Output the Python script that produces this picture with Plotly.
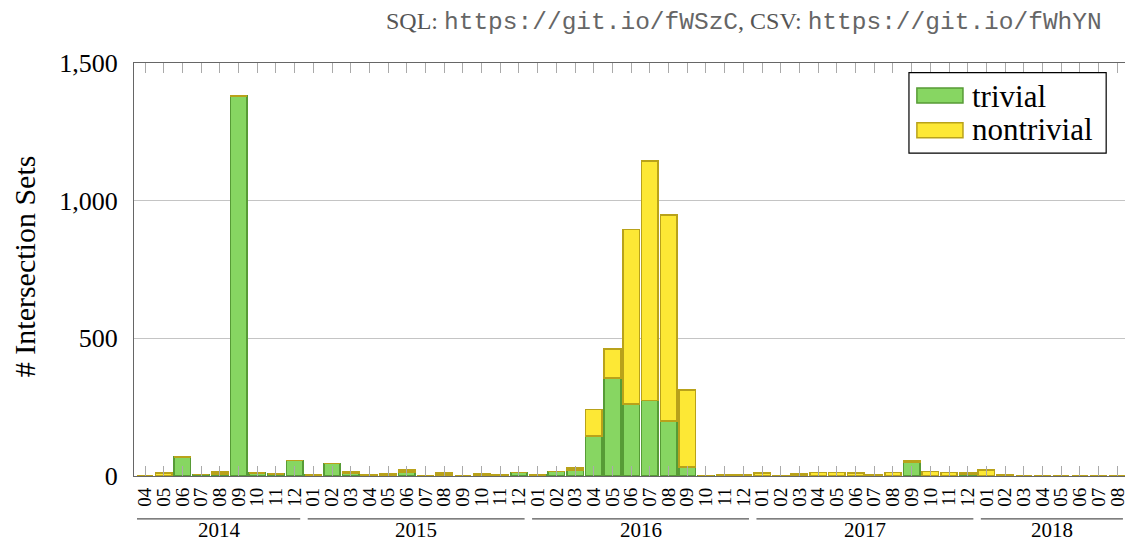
import plotly.graph_objects as go

years = ["2014", "2015", "2016", "2017", "2018"]
year_months = {
    "2014": ["04", "05", "06", "07", "08", "09", "10", "11", "12"],
    "2015": ["01", "02", "03", "04", "05", "06", "07", "08", "09", "10", "11", "12"],
    "2016": ["01", "02", "03", "04", "05", "06", "07", "08", "09", "10", "11", "12"],
    "2017": ["01", "02", "03", "04", "05", "06", "07", "08", "09", "10", "11", "12"],
    "2018": ["01", "02", "03", "04", "05", "06", "07", "08"],
}
categories = [f"{y}-{m}" for y in years for m in year_months[y]]
month_labels = [m for y in years for m in year_months[y]]

trivial = [
    0, 0, 68, 6, 8, 1380, 10, 8, 57,
    3, 45, 12, 0, 2, 15, 0, 3, 0, 2, 0, 13,
    3, 16, 21, 146, 356, 262, 274, 200, 33, 2, 0, 0,
    2, 0, 0, 0, 0, 0, 0, 0, 50, 0, 0, 5,
    1, 0, 0, 0, 0, 0, 0, 0,
]
nontrivial = [
    0, 12, 0, 0, 6, 0, 0, 0, 0,
    0, 0, 5, 3, 5, 6, 0, 8, 0, 6, 5, 0,
    0, 0, 7, 96, 105, 634, 870, 747, 279, 0, 3, 3,
    10, 2, 7, 13, 13, 12, 5, 13, 4, 16, 13, 5,
    20, 6, 0, 0, 0, 0, 0, 0,
]
y_ticks = [0, 500, 1000, 1500]

GREEN_FILL, GREEN_LINE = "#87d662", "#579b36"
YELLOW_FILL, YELLOW_LINE = "#fde835", "#b9a21a"
SERIF = "Liberation Serif"
MONO = "Liberation Mono"

fig = go.Figure()
fig.add_trace(go.Bar(x=categories, y=trivial, name="trivial",
                     marker=dict(color=GREEN_FILL, line=dict(color=GREEN_LINE, width=1.6))))
fig.add_trace(go.Bar(x=categories, y=nontrivial, name="nontrivial",
                     marker=dict(color=YELLOW_FILL, line=dict(color=YELLOW_LINE, width=1.6))))

n = len(categories)
fig.update_layout(
    width=1125, height=543,
    margin=dict(l=134, r=0, t=63, b=67, autoexpand=False),
    barmode="stack", bargap=0.12,
    plot_bgcolor="white", paper_bgcolor="white",
    showlegend=False,
    font=dict(family=SERIF, color="black"),
    xaxis=dict(
        type="category", categoryorder="array", categoryarray=categories,
        range=[-0.59, n - 0.59], automargin=False,
        tickmode="array", tickvals=categories, ticktext=month_labels,
        tickangle=-90, tickfont=dict(family=SERIF, size=19),
        ticks="inside", ticklen=10, tickcolor="#aaaaaa", tickwidth=1,
        showline=True, linecolor="#666666", linewidth=1.3, mirror="allticks",
        showgrid=False, ticklabelstandoff=3,
    ),
    yaxis=dict(
        range=[0, 1500], tickvals=y_ticks, tickformat=",", automargin=False,
        tickfont=dict(family=SERIF, size=26),
        showgrid=True, gridcolor="#c4c4c4", gridwidth=1,
        showline=True, linecolor="#666666", linewidth=1.3, mirror=True,
        zeroline=False, ticks="", ticklabelstandoff=10,
    ),
)

# year group labels with underlines
start = 0
for y in years:
    cnt = len(year_months[y])
    first, last = start, start + cnt - 1
    fig.add_shape(type="line", xref="x", yref="paper",
                  x0=first - 0.3 if first > 0 else first - 0.43, x1=last + 0.3,
                  y0=-0.104, y1=-0.104, line=dict(color="#555555", width=1.2))
    fig.add_annotation(x=(first + last) / 2, y=-0.131, xref="x", yref="paper",
                       text=y, showarrow=False, yanchor="middle",
                       font=dict(family=SERIF, size=21))
    start += cnt

# y-axis title
fig.add_annotation(x=-0.111, y=0.508, xref="paper", yref="paper",
                   text="# Intersection Sets", textangle=-90, showarrow=False,
                   xanchor="center", yanchor="middle",
                   font=dict(family=SERIF, size=30))

# source note
ser = f"font-family:'{SERIF}'; font-size:24px"
mon = f"font-family:'{MONO}'; font-size:24.5px; fill:#666666"
fig.add_annotation(
    x=0.979, y=1.099, xref="paper", yref="paper", xanchor="right", yanchor="middle",
    showarrow=False, font=dict(family=SERIF, size=24, color="#555555"),
    text=(f"<span style=\"{ser}\">SQL: </span><span style=\"{mon}\">https://git.io/fWSzC</span>"
          f"<span style=\"{ser}\">, CSV: </span><span style=\"{mon}\">https://git.io/fWhYN</span>"),
)

# legend (drawn manually to match swatch shape)
fig.add_shape(type="rect", xref="paper", yref="paper", x0=0.782, x1=0.981, y0=0.782, y1=0.9765,
              line=dict(color="black", width=1.2), fillcolor="white", layer="above")
for (name, fill, line, y0, y1, ty) in [
    ("trivial", GREEN_FILL, GREEN_LINE, 0.903, 0.9395, 0.920),
    ("nontrivial", YELLOW_FILL, YELLOW_LINE, 0.819, 0.8555, 0.838),
]:
    fig.add_shape(type="rect", xref="paper", yref="paper", x0=0.790, x1=0.8365, y0=y0, y1=y1,
                  line=dict(color=line, width=1.5), fillcolor=fill, layer="above")
    fig.add_annotation(x=0.8436, y=ty, xref="paper", yref="paper", text=name, showarrow=False,
                       xanchor="left", yanchor="middle", font=dict(family=SERIF, size=31))

# remove the browser's default 8px body margin so the figure fills the window exactly
fig.write_html("out.html", config={"displayModeBar": False},
               post_script="document.body.style.margin='0px';")
